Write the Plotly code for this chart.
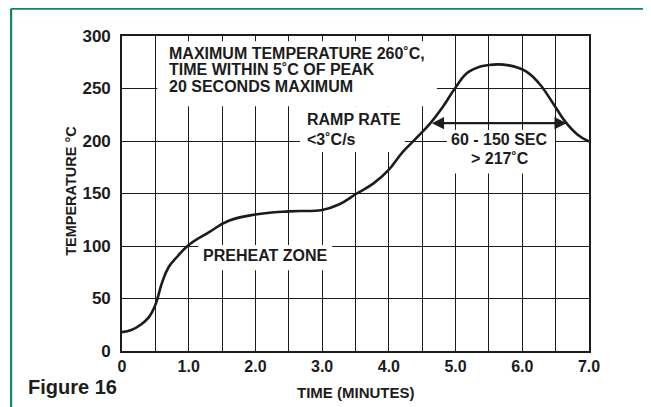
import numpy as np
import plotly.graph_objects as go

# Reflow profile (time in minutes, temperature in °C)
time_min = [0, 0.14, 0.28, 0.4, 0.5, 0.6, 0.7, 0.83, 1.0, 1.3, 1.6, 2.0, 2.5,
            3.0, 3.25, 3.52, 3.77, 3.99, 4.2, 4.4, 4.62, 4.81, 5.0, 5.2, 5.5,
            5.8, 6.05, 6.25, 6.45, 6.65, 6.83, 7.0]
temp_c = [18, 20, 25, 32, 44, 65, 80, 90, 101, 113, 124, 130, 133,
          134.3, 139.5, 150, 159.6, 172, 189, 202, 216.8, 232.6, 251, 266, 272.3,
          272, 266.5, 255, 237, 218, 206, 199.5]

x_ticks = [0, 0.5, 1, 1.5, 2, 2.5, 3, 3.5, 4, 4.5, 5, 5.5, 6, 6.5, 7]
x_labels = ["0", "", "1.0", "", "2.0", "", "3.0", "", "4.0", "", "5.0", "", "6.0", "", "7.0"]
y_ticks = [0, 50, 100, 150, 200, 250, 300]
y_labels = ["0", "50", "100", "150", "200", "250", "300"]

liquidus = 217  # °C

FONT = "Liberation Sans, Arial, Helvetica, sans-serif"
INK = "#1c1c1c"
GREEN = "#14875c"

# times where the profile crosses the liquidus temperature
t_arr = np.array(time_min, dtype=float)
T_arr = np.array(temp_c, dtype=float)
fine_t = np.linspace(0, 7, 2001)
fine_T = np.interp(fine_t, t_arr, T_arr)
above = fine_t[fine_T >= liquidus]
t_start, t_end = float(above.min()), float(above.max())

fig = go.Figure()
fig.add_trace(go.Scatter(x=time_min, y=temp_c, mode="lines",
                         line=dict(color=INK, width=2.6, shape="spline", smoothing=1.2),
                         hoverinfo="skip", showlegend=False))

# white label boxes that hide the grid (between grid and data)
boxes = [
    (0.53, 4.72, 233, 295),
    (2.67, 4.24, 189.5, 233),
    (4.87, 6.49, 169, 210.4),
    (1.145, 3.15, 77, 101),
]
for x0, x1, y0, y1 in boxes:
    fig.add_shape(type="rect", xref="x", yref="y", x0=x0, x1=x1, y0=y0, y1=y1,
                  fillcolor="white", line=dict(width=0), layer="between")

def label(text, x, y, xanchor="left", size=16):
    fig.add_annotation(x=x, y=y, xref="x", yref="y", text=text, showarrow=False,
                       xanchor=xanchor, yanchor="middle",
                       font=dict(family=FONT, size=size, color=INK, weight="bold"))

label("MAXIMUM TEMPERATURE 260˚C,", 0.68, 283.5)
label("TIME WITHIN 5˚C OF PEAK", 0.68, 268)
label("20 SECONDS MAXIMUM", 0.68, 252)
label("RAMP RATE", 2.75, 220.4)
label("<3˚C/s", 2.74, 201.8)
label("60 - 150 SEC", 5.66, 201, xanchor="center")
label("> 217˚C", 5.67, 183.4, xanchor="center")
label("PREHEAT ZONE", 1.19, 90.8)

# double-headed arrow at liquidus
fig.add_annotation(x=t_end, y=liquidus, ax=t_start, ay=liquidus, xref="x", yref="y",
                   axref="x", ayref="y", text="", showarrow=True, arrowhead=2,
                   arrowside="end+start", arrowsize=1.1, arrowwidth=2.2, arrowcolor=INK)

# axis titles and figure caption
fig.add_annotation(x=0.5, y=-0.133, xref="paper", yref="paper", text="TIME (MINUTES)",
                   showarrow=False, xanchor="center", yanchor="middle",
                   font=dict(family=FONT, size=15, color=INK, weight="bold"))
fig.add_annotation(x=-0.1095, y=0.508, xref="paper", yref="paper", text="TEMPERATURE °C",
                   showarrow=False, textangle=-90, xanchor="center", yanchor="middle",
                   font=dict(family=FONT, size=14.5, color=INK, weight="bold"))
fig.add_annotation(x=-0.2054, y=-0.113, xref="paper", yref="paper", text="Figure 16",
                   showarrow=False, xanchor="left", yanchor="middle",
                   font=dict(family=FONT, size=20, color=INK, weight="bold"))

# green frame (left and top edges)
fig.add_shape(type="line", xref="paper", yref="paper", x0=-0.2375, x1=-0.2375,
              y0=-0.3, y1=1.0866, line=dict(color=GREEN, width=2.2), layer="above")
fig.add_shape(type="line", xref="paper", yref="paper", x0=-0.2375, x1=1.3,
              y0=1.0866, y1=1.0866, line=dict(color=GREEN, width=2.2), layer="above")

fig.update_xaxes(range=[0, 7], tickmode="array", tickvals=x_ticks, ticktext=x_labels,
                 showgrid=True, gridcolor=INK, gridwidth=1.3, zeroline=False,
                 showline=True, linecolor=INK, linewidth=1.6, mirror=True, ticks="",
                 tickfont=dict(family=FONT, size=16, color=INK, weight="bold"))
fig.update_yaxes(range=[0, 300], tickmode="array", tickvals=y_ticks, ticktext=y_labels,
                 showgrid=True, gridcolor=INK, gridwidth=1.3, zeroline=False,
                 showline=True, linecolor=INK, linewidth=1.6, mirror=True, ticks="",
                 ticklabelstandoff=6,
                 tickfont=dict(family=FONT, size=17, color=INK, weight="bold"))

# the page places the figure 8 px from its top-left corner, so margins are offset
fig.update_layout(width=651, height=407, margin=dict(l=114, r=69.6, t=28, b=64.3),
                  paper_bgcolor="white", plot_bgcolor="white", showlegend=False)

fig.write_html("out.html")
